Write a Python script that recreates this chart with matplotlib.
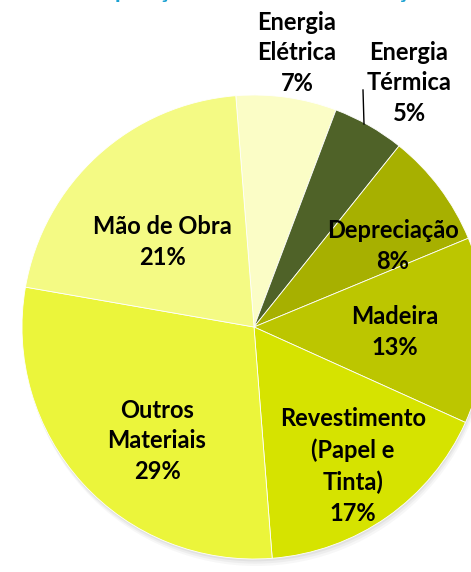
"""Pie chart: cost composition (Portuguese labels), Excel-like look."""

import matplotlib
matplotlib.use("Agg")
import matplotlib.pyplot as plt  # noqa: E402
from matplotlib.patches import Circle  # noqa: E402

# Data, in clockwise order starting just left of 12 o'clock.
categories = ["Energia\nElétrica", "Energia\nTérmica", "Depreciação", "Madeira",
              "Revestimento\n(Papel e\nTinta)", "Outros\nMateriais", "Mão de Obra"]
shares = [7, 5, 8, 13, 17, 29, 21]
colors = ["#FBFDC6", "#4F6228", "#A7B000", "#BCC600", "#D6E300", "#EBF53B", "#F4FA84"]

# Label centres in pixels (Excel hand-placed them).
label_px = [(297, 53), (409, 83), (393, 246), (395, 332), (353, 466), (157, 441), (162, 242)]

W, H, DPI = 471, 572, 100
CX, CY, R = 254, 327, 232  # pie centre / radius in pixels


def px(x, y):
    return (x - CX) / R, (CY - y) / R


fig = plt.figure(figsize=(W / DPI, H / DPI), dpi=DPI)
fig.patch.set_facecolor("white")
ax = fig.add_axes([0, 0, 1, 1])

# Soft drop shadow under the pie.
for off, a in [(0.030, 0.06), (0.020, 0.08), (0.010, 0.10)]:
    ax.add_patch(Circle((off * 0.3, -off), 1.0, color="#7f7f7f", alpha=a, lw=0, zorder=0))

ax.pie(shares, colors=colors, startangle=94.5, counterclock=False, radius=1.0,
       wedgeprops=dict(edgecolor="#ffffff", linewidth=0.6, alpha=1.0), normalize=True)

font = dict(family=["Lato", "DejaVu Sans"], fontweight="bold", fontsize=17, color="black")
for (x, y), cat, v in zip(label_px, categories, shares):
    ax.text(*px(x, y), f"{cat}\n{v}%", ha="center", va="center",
            linespacing=1.42, zorder=5, **font)

# Leader line for Energia Térmica.
(x0, y0), (x1, y1) = px(363, 90), px(364, 124)
ax.plot([x0, x1], [y0, y1], color="black", lw=1.0, zorder=5)

# Title, cut off above the canvas (only descenders peek in).
ax.text(*px(250, -2), "Composição do Custo de Produção", ha="center", va="baseline",
        color="#1BA1D2", family=["Lato", "DejaVu Sans"], fontweight="bold", fontsize=17,
        clip_on=False)

ax.set_xlim(-CX / R, (W - CX) / R)
ax.set_ylim((CY - H) / R, CY / R)
ax.set_aspect("auto")
ax.axis("off")

fig.savefig("out.png", dpi=DPI, facecolor="white")
